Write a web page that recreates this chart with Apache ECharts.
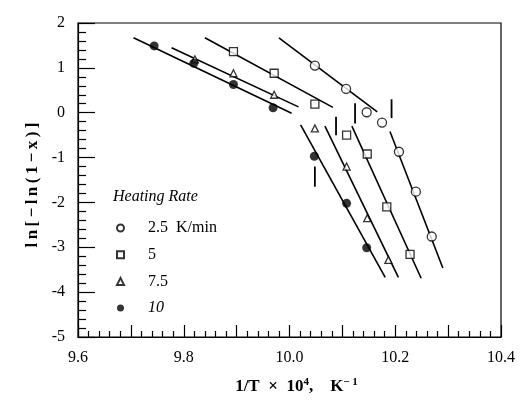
<!DOCTYPE html>
<html>
<head>
<meta charset="utf-8">
<script src="https://cdn.jsdelivr.net/npm/echarts@6/dist/echarts.min.js"></script>
<style>
  html, body { margin: 0; padding: 0; background: #fff; }
  #chart { width: 524px; height: 404px; }
</style>
</head>
<body>
<div id="chart"></div>
<script>
// heating rate series (x = 1/T * 1e4, y = ln[-ln(1-x)])
const rateNames = ['2.5  K/min', '5', '7.5', '10']
const rate25X = [10.048, 10.107, 10.146, 10.175, 10.207, 10.239, 10.269]
const rate25Y = [1.05, 0.53, 0.01, -0.22, -0.87, -1.76, -2.76]
const rate5X = [9.894, 9.971, 10.048, 10.108, 10.147, 10.184, 10.228]
const rate5Y = [1.36, 0.88, 0.19, -0.50, -0.92, -2.10, -3.16]
const rate75X = [9.821, 9.894, 9.971, 10.048, 10.108, 10.147, 10.187]
const rate75Y = [1.19, 0.88, 0.40, -0.35, -1.20, -2.35, -3.28]
const rate10X = [9.744, 9.819, 9.894, 9.969, 10.047, 10.108, 10.146]
const rate10Y = [1.49, 1.10, 0.63, 0.11, -0.97, -2.02, -3.01]

// fitted line segments: [x1, y1, x2, y2]
const fitLines = [
  [9.980, 1.67, 10.166, 0.02], [10.190, -0.42, 10.290, -3.46],   // 2.5
  [9.840, 1.67, 10.082, 0.12], [10.118, -0.30, 10.249, -3.69],   // 5
  [9.777, 1.45, 10.017, 0.13], [10.067, -0.30, 10.206, -3.67],   // 7.5
  [9.705, 1.67, 10.004, -0.01], [10.021, -0.27, 10.181, -3.67]   // 10
]
// vertical transition marks: [x, yTop, yBottom]
const breakMarks = [
  [10.193, 0.30, -0.12],
  [10.124, 0.21, -0.24],
  [10.088, -0.09, -0.50],
  [10.048, -1.20, -1.65]
]

const xTicks = { min: 9.6, max: 10.4, step: 0.1 }
const yTicks = { min: -5, max: 2, step: 1 }

const FONT = '"Liberation Serif", "DejaVu Serif", serif'
const zip = (xs, ys) => xs.map((x, i) => [x, ys[i]])

const chart = echarts.init(document.getElementById('chart'))

const lineSeries = fitLines.map(s => ({
  type: 'line',
  data: [[s[0], s[1]], [s[2], s[3]]],
  showSymbol: false,
  silent: true,
  z: 1,
  lineStyle: { color: '#000', width: 1.6 }
}))

const markSeries = breakMarks.map(m => ({
  type: 'line',
  data: [[m[0], m[1]], [m[0], m[2]]],
  showSymbol: false,
  silent: true,
  z: 1,
  lineStyle: { color: '#000', width: 1.8 }
}))

const hollow = { color: '#fff', borderColor: '#000', borderWidth: 1.3 }

const pointSeries = [
  { name: rateNames[0], type: 'scatter', data: zip(rate25X, rate25Y), symbol: 'circle', symbolSize: 9, itemStyle: hollow, z: 3 },
  { name: rateNames[1], type: 'scatter', data: zip(rate5X, rate5Y), symbol: 'rect', symbolSize: 8, itemStyle: hollow, z: 3 },
  { name: rateNames[2], type: 'scatter', data: zip(rate75X, rate75Y), symbol: 'triangle', symbolSize: 7, itemStyle: hollow, z: 3 },
  { name: rateNames[3], type: 'scatter', data: zip(rate10X, rate10Y), symbol: 'circle', symbolSize: 9, itemStyle: { color: '#000' }, z: 3 }
]

const option = {
  backgroundColor: '#fff',
  animation: false,
  grid: {
    left: 78, right: 23, top: 23, bottom: 67,
    containLabel: false,
    outerBoundsMode: 'none',
    show: true,
    borderColor: '#000',
    borderWidth: 1.2
  },
  legend: {
    data: rateNames,
    orient: 'vertical',
    left: 111,
    top: 214,
    itemWidth: 7,
    itemHeight: 7,
    itemGap: 8.7,
    selectedMode: false,
    textStyle: {
      fontFamily: FONT,
      fontSize: 16,
      color: '#000',
      lineHeight: 18,
      padding: [0, 0, 0, 19],
      rich: { it: { fontFamily: FONT, fontSize: 16, fontStyle: 'italic', color: '#000' } }
    },
    formatter: name => name === '10' ? '{it|10}' : name
  },
  graphic: [{
    type: 'text',
    left: 113,
    top: 189,
    style: { text: 'Heating Rate', font: 'italic 16px ' + FONT, fill: '#000' }
  }],
  xAxis: {
    type: 'value',
    min: xTicks.min,
    max: xTicks.max,
    interval: xTicks.step,
    name: '1/T  ×  10{sup|4},    K{sup|− 1}',
    nameLocation: 'middle',
    nameGap: 40,
    nameTextStyle: {
      fontFamily: FONT, fontSize: 17, fontWeight: 'bold', color: '#000',
      padding: [0, 0, 0, 14],
      rich: { sup: { fontFamily: FONT, fontSize: 11, fontWeight: 'bold', color: '#000', verticalAlign: 'top', padding: [0, 0, 8, 0] } }
    },
    axisLine: { onZero: false, lineStyle: { color: '#000', width: 1.2 } },
    axisTick: { inside: true, length: 12, lineStyle: { color: '#000', width: 1.2 } },
    minorTick: { show: true, splitNumber: 5, length: 6, lineStyle: { color: '#000', width: 1.2 } },
    splitLine: { show: false },
    axisLabel: {
      margin: 13,
      fontFamily: FONT, fontSize: 16, color: '#000',
      formatter: v => {
        const k = Math.round(v * 10)
        return k % 2 === 0 ? (k / 10).toFixed(1) : ''
      }
    }
  },
  yAxis: {
    type: 'value',
    min: yTicks.min,
    max: yTicks.max,
    interval: yTicks.step,
    name: 'l\u2009n\u2009[\u2009−\u2009l\u2009n\u2009(\u20091\u2009−\u2009x\u2009)\u2009]',
    nameLocation: 'middle',
    nameRotate: 90,
    nameGap: 32,
    nameTextStyle: { fontFamily: FONT, fontSize: 17, fontWeight: 'bold', color: '#000', padding: [0, 10, 0, 0] },
    axisLine: { onZero: false, lineStyle: { color: '#000', width: 1.2 } },
    axisTick: { inside: true, length: 17, lineStyle: { color: '#000', width: 1.2 } },
    minorTick: { show: true, splitNumber: 5, length: 8, lineStyle: { color: '#000', width: 1.2 } },
    splitLine: { show: false },
    axisLabel: { margin: 13, fontFamily: FONT, fontSize: 16, color: '#000' }
  },
  series: [...lineSeries, ...markSeries, ...pointSeries]
}

chart.setOption(option)
</script>
</body>
</html>
